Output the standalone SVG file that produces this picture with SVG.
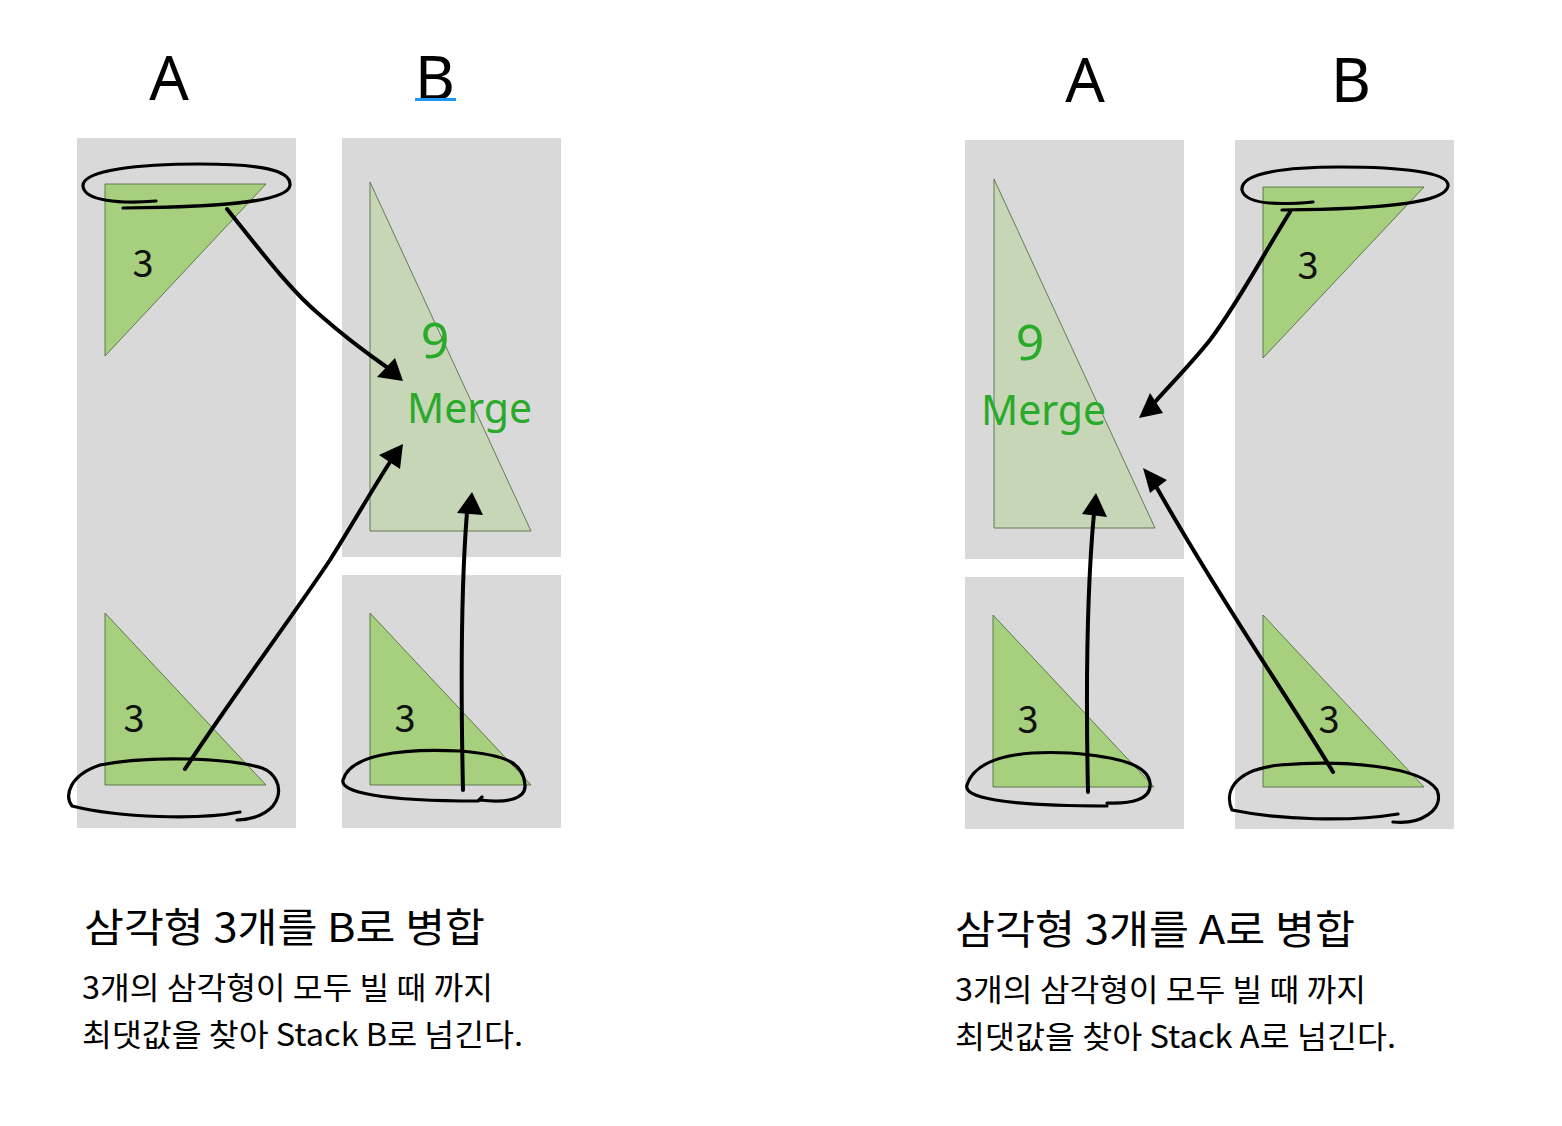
<svg xmlns="http://www.w3.org/2000/svg" width="1562" height="1126" viewBox="0 0 1562 1126">
<style>
.col{fill:#d9d9d9}
.tri{fill:#a6cf7e;stroke:#4a6238;stroke-width:0.8}
.merge{fill:#c6d6b6;stroke:#4a6238;stroke-width:0.8}
.num{font-family:"Noto Sans CJK KR","Noto Sans",sans-serif;font-size:38px;fill:#111;text-anchor:middle}
.g9{font-family:"Noto Sans",sans-serif;font-size:50px;fill:#2aaa2a;text-anchor:middle}
.gm{font-family:"Noto Sans",sans-serif;font-size:41px;fill:#2aaa2a}
.hd{font-family:"Noto Sans",sans-serif;font-size:62px;fill:#000;text-anchor:middle}
.t1{font-family:"Noto Sans CJK KR",sans-serif;font-size:40px;fill:#000}
.t2{font-family:"Noto Sans CJK KR",sans-serif;font-size:31px;fill:#000}
.ink{fill:none;stroke:#000;stroke-width:3.2;stroke-linecap:round;stroke-linejoin:round}
.arr{fill:none;stroke:#000;stroke-width:4;stroke-linecap:round}
.head{fill:#000}
</style>
<g id="header-left">
<text class="hd" x="169" y="100">A</text>
<text class="hd" x="435" y="100">B</text>
<rect x="415" y="98" width="41" height="3" fill="#2196f3"/>
</g>
<g id="header-right">
<text class="hd" x="1085" y="102">A</text>
<text class="hd" x="1351" y="102">B</text>
</g>
<g id="left-stack-a">
<rect class="col" x="77" y="138" width="219" height="690"/>
<polygon class="tri" points="105,184 266,184 105,356"/>
<text class="num" x="143" y="277">3</text>
<polygon class="tri" points="105,613 105,785 266,785"/>
<text class="num" x="134" y="732">3</text>
</g>
<g id="left-stack-b-top">
<rect class="col" x="342" y="138" width="219" height="419"/>
<polygon class="merge" points="370,182 370,531 531,531"/>
<text class="g9" x="435" y="358">9</text>
<text class="gm" x="407" y="423">Merge</text>
</g>
<g id="left-stack-b-bottom">
<rect class="col" x="342" y="575" width="219" height="253"/>
<polygon class="tri" points="370,613 370,785 531,785"/>
<text class="num" x="405" y="732">3</text>
</g>
<g id="right-stack-a-top">
<rect class="col" x="965" y="140" width="219" height="419"/>
<polygon class="merge" points="994,179 994,528 1155,528"/>
<text class="g9" x="1030" y="360">9</text>
<text class="gm" x="981" y="425">Merge</text>
</g>
<g id="right-stack-a-bottom">
<rect class="col" x="965" y="577" width="219" height="252"/>
<polygon class="tri" points="993,615 993,787 1154,787"/>
<text class="num" x="1028" y="733">3</text>
</g>
<g id="right-stack-b">
<rect class="col" x="1235" y="140" width="219" height="689"/>
<polygon class="tri" points="1263,187 1424,187 1263,358"/>
<text class="num" x="1308" y="279">3</text>
<polygon class="tri" points="1263,615 1263,787 1424,787"/>
<text class="num" x="1329" y="733">3</text>
</g>
<g id="connectors">
<path class="ink" d="M156,201 C120,204 84,201 83,186 C82,170 140,164 200,164 C260,164 291,170 290,185 C289,201 230,207 123,208"/>
<path class="arr" d="M227,209 C260,250 290,290 320,315 C345,337 365,352 388,368"/>
<polygon class="head" points="403,381 377,377 395,358"/>
<path class="ink" d="M240,812 C200,820 120,818 72,806 C64,795 70,775 100,765 C150,755 230,758 262,768 C288,778 286,818 237,820"/>
<path class="arr" d="M185,769 C230,700 290,620 330,560 C355,520 372,490 390,462"/>
<polygon class="head" points="403,444 379,455 400,469"/>
<path class="ink" d="M480,800 C505,803 526,800 525,785 C524,765 510,755 460,751 C400,748 350,755 343,780 C340,792 380,801 478,801 L482,797"/>
<path class="arr" d="M463,790 C461,700 460,600 467,512"/>
<polygon class="head" points="472,492 457,513 483,515"/>
<path class="ink" d="M1313,202 C1280,205 1245,205 1242,190 C1240,172 1290,167 1340,167 C1400,167 1450,172 1448,186 C1446,202 1390,209 1282,210"/>
<path class="arr" d="M1290,212 C1260,260 1240,300 1210,340 C1190,365 1170,385 1155,402"/>
<polygon class="head" points="1139,418 1150,393 1163,413"/>
<path class="arr" d="M1333,772 C1290,700 1220,600 1157,488"/>
<polygon class="head" points="1143,468 1167,480 1150,493"/>
<path class="ink" d="M1107,803 C1130,804 1152,800 1150,783 C1148,765 1120,757 1070,753 C1010,750 975,760 967,785 C963,797 1000,806 1107,806"/>
<path class="arr" d="M1088,792 C1086,700 1086,600 1094,513"/>
<polygon class="head" points="1096,493 1082,514 1107,517"/>
<path class="ink" d="M1398,814 C1350,822 1280,820 1232,810 C1225,795 1230,770 1280,765 C1340,760 1420,765 1437,790 C1445,810 1420,825 1393,822"/>
</g>
<g id="caption-left">
<text class="t1" x="84" y="942" textLength="401" lengthAdjust="spacingAndGlyphs">삼각형 3개를 B로 병합</text>
<text class="t2" x="82" y="999" textLength="411" lengthAdjust="spacingAndGlyphs">3개의 삼각형이 모두 빌 때 까지</text>
<text class="t2" x="82" y="1046" textLength="441" lengthAdjust="spacingAndGlyphs">최댓값을 찾아 Stack B로 넘긴다.</text>
</g>
<g id="caption-right">
<text class="t1" x="955" y="944" textLength="400" lengthAdjust="spacingAndGlyphs">삼각형 3개를 A로 병합</text>
<text class="t2" x="955" y="1001" textLength="411" lengthAdjust="spacingAndGlyphs">3개의 삼각형이 모두 빌 때 까지</text>
<text class="t2" x="955" y="1048" textLength="441" lengthAdjust="spacingAndGlyphs">최댓값을 찾아 Stack A로 넘긴다.</text>
</g>
</svg>
